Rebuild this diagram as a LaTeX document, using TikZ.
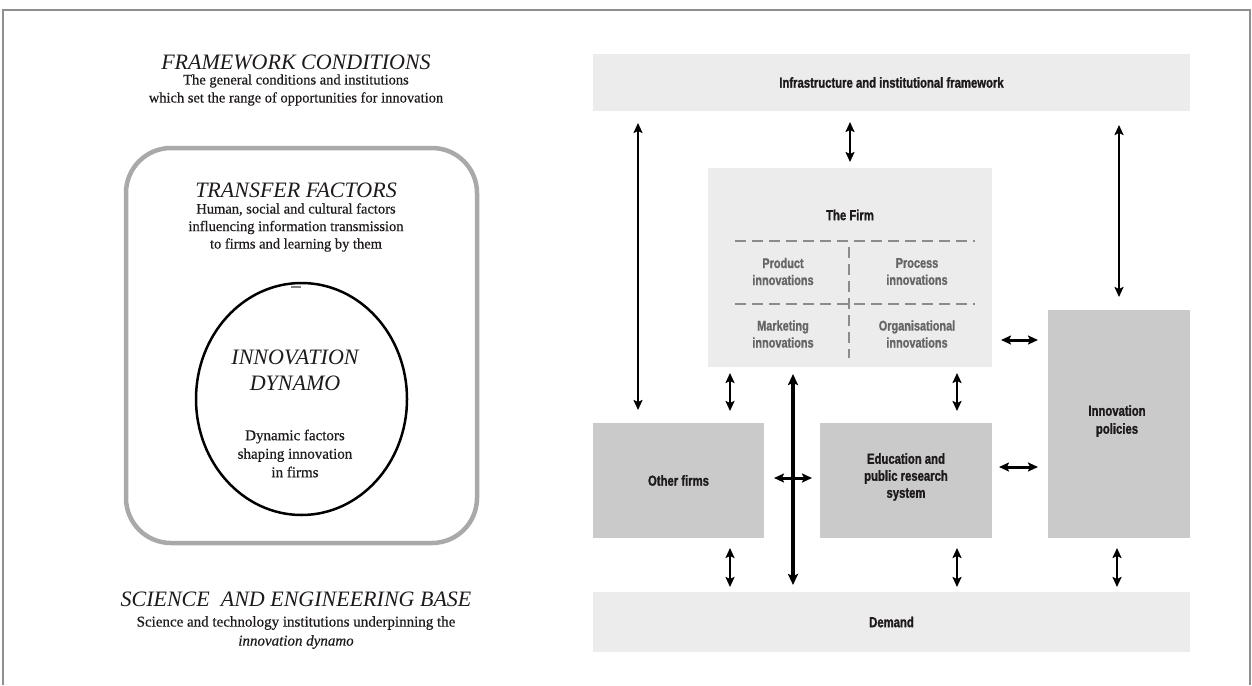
\documentclass[tikz,border=0pt]{standalone}
\usepackage{fontspec}
\setmainfont{Liberation Serif}
\newfontfamily\bodyf[FakeBold=0.5]{Liberation Serif}
\newfontfamily\condf[FakeStretch=0.78,FakeBold=1.2]{Liberation Sans}
\usetikzlibrary{arrows.meta,shapes.geometric}
\definecolor{boxlight}{HTML}{ECECEC}
\definecolor{boxdark}{HTML}{CACACA}
\definecolor{frameg}{HTML}{8F8F8F}
\definecolor{roundg}{HTML}{A9A9A9}
\definecolor{dashg}{HTML}{8B8B8B}
\definecolor{inkc}{HTML}{1E1A1B}
\definecolor{subink}{HTML}{666666}
\begin{document}
\begin{tikzpicture}[x=1pt,y=-1pt,
  lightbox/.style={fill=boxlight, draw=none, inner sep=0pt, outer sep=0pt},
  darkbox/.style={fill=boxdark, draw=none, inner sep=0pt, outer sep=0pt},
  boxlabel/.style={font=\condf\bfseries\fontsize{14.5}{17}\selectfont, text=inkc, align=center, inner sep=0pt},
  sublabel/.style={font=\condf\bfseries\fontsize{14}{17}\selectfont, text=subink, align=center, inner sep=0pt},
  ttl/.style={font=\fontsize{22}{26}\selectfont\itshape, text=inkc, align=center, inner sep=0pt},
  body/.style={font=\bodyf\fontsize{14.5}{18}\selectfont, text=inkc, align=center, inner sep=0pt},
  arr/.style={line width=2.2pt, draw=black, {Stealth[length=10pt,width=9pt,inset=2pt]}-{Stealth[length=10pt,width=9pt,inset=2pt]}},
  arrlong/.style={arr, line width=2.4pt},
  arrwide/.style={arr, line width=3pt},
  arrthick/.style={line width=3.8pt, draw=black, {Stealth[length=11pt,width=10pt,inset=2pt]}-{Stealth[length=11pt,width=10pt,inset=2pt]}},
  firmdash/.style={draw=dashg, line width=2.2pt, dash pattern=on 11pt off 6pt}
]
\useasboundingbox (0,0) rectangle (1252,685);
% outer frame
\draw[frameg, line width=2.5pt] (3,685) -- (3,10) -- (1250,10) -- (1250,685);

% ---------- left panel ----------
\node[ttl] (fc) at (296,62) {FRAMEWORK CONDITIONS};
\node[body] (fcd) at (296,90) {The general conditions and institutions\\which set the range of opportunities for innovation};
\node[draw=roundg, line width=4.5pt, rounded corners=45pt, minimum width=351pt, minimum height=395pt, inner sep=0pt] (tf) at (301.5,345.5) {};
\node[ttl] (tft) at (296,190) {TRANSFER FACTORS};
\node[body, font=\bodyf\fontsize{14.5}{17.5}\selectfont] (tfd) at (296,227.5) {Human, social and cultural factors\\influencing information transmission\\to firms and learning by them};
\node[draw=black, line width=2.5pt, ellipse, minimum width=211pt, minimum height=232pt, inner sep=0pt] (dyn) at (301.5,399) {};
\draw[gray, line width=2pt] (291,287) -- (301,287);
\node[ttl] (dynt) at (295,370) {INNOVATION\\DYNAMO};
\node[body, font=\bodyf\fontsize{15}{18.5}\selectfont] (dynd) at (295,453.5) {Dynamic factors\\shaping innovation\\in firms};
\node[ttl] (seb) at (296,599) {SCIENCE\ \ AND ENGINEERING BASE};
\node[body, font=\bodyf\fontsize{15}{19}\selectfont] (sebd) at (296,632.5) {Science and technology institutions underpinning the\\\textit{innovation dynamo}};

% ---------- right panel ----------
\node[lightbox, minimum width=597pt, minimum height=57pt] (top) at (891.5,82.5) {};
\node[boxlabel] at (top.center) {Infrastructure and institutional framework};
\node[lightbox, minimum width=284pt, minimum height=199pt] (firm) at (850,267.5) {};
\node[boxlabel] at (850,215) {The Firm};
\node[sublabel] at (783,271.5) {Product\\innovations};
\node[sublabel] at (917,271.5) {Process\\innovations};
\node[sublabel] at (783,334) {Marketing\\innovations};
\node[sublabel] at (917,334) {Organisational\\innovations};
\draw[firmdash] (735,241) -- (975,241);
\draw[firmdash] (735,304) -- (975,304);
\draw[firmdash] (849,247) -- (849,358);

\node[darkbox, minimum width=171pt, minimum height=115pt] (other) at (678.5,480.5) {};
\node[boxlabel] at (other.center) {Other firms};
\node[darkbox, minimum width=172pt, minimum height=115pt] (edu) at (906,480.5) {};
\node[boxlabel] at (906,477) {Education and\\public research\\system};
\node[darkbox, minimum width=142pt, minimum height=228pt] (pol) at (1119,424) {};
\node[boxlabel, font=\condf\bfseries\fontsize{14.5}{18}\selectfont] at (1117,421) {Innovation\\policies};
\node[lightbox, minimum width=597pt, minimum height=60pt] (demand) at (891.5,622) {};
\node[boxlabel] at (demand.center) {Demand};

% connector positions
\coordinate (xL) at (638,0);
\coordinate (xM) at (850,0);
\coordinate (xR) at (1119,0);
\coordinate (xA) at (730,0);
\coordinate (xB) at (957,0);
\coordinate (xT) at (793,0);
\coordinate (xC) at (1117,0);
\coordinate (yP) at (0,340);
\coordinate (yE) at (0,467);
\coordinate (yO) at (0,478);

\draw[arrlong, shorten <=12pt, shorten >=13pt] (top.south -| xL) -- (other.north -| xL);
\draw[arr, shorten <=11pt, shorten >=6pt] (top.south -| xM) -- (firm.north -| xM);
\draw[arrlong, shorten <=14pt, shorten >=13pt] (top.south -| xR) -- (pol.north -| xR);
\draw[arrwide, shorten <=9pt, shorten >=10pt] (firm.east |- yP) -- (pol.west |- yP);
\draw[arr, shorten <=6pt, shorten >=12pt] (firm.south -| xA) -- (other.north -| xA);
\draw[arr, shorten <=6pt, shorten >=12pt] (firm.south -| xB) -- (edu.north -| xB);
\draw[arrthick, shorten <=7pt, shorten >=7pt] (firm.south -| xT) -- (demand.north -| xT);
\draw[arrwide, shorten <=10pt, shorten >=8pt] (other.east |- yO) -- (edu.west |- yO);
\draw[arrwide, shorten <=7pt, shorten >=10pt] (edu.east |- yE) -- (pol.west |- yE);
\draw[arr, shorten <=10pt, shorten >=5pt] (other.south -| xA) -- (demand.north -| xA);
\draw[arr, shorten <=10pt, shorten >=5pt] (edu.south -| xB) -- (demand.north -| xB);
\draw[arr, shorten <=10pt, shorten >=5pt] (pol.south -| xC) -- (demand.north -| xC);
\end{tikzpicture}
\end{document}
